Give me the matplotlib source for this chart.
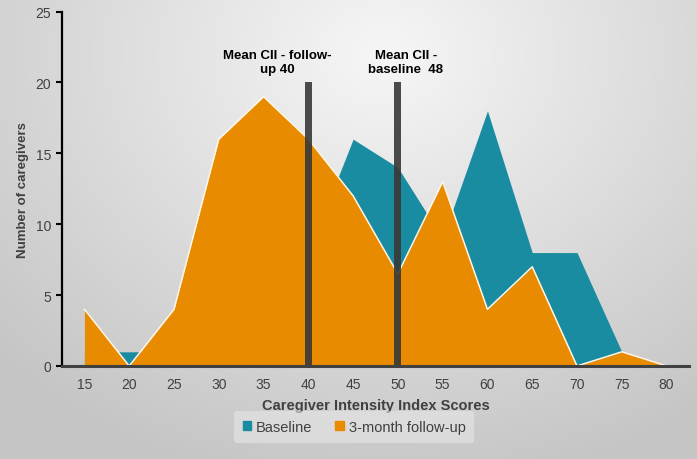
import numpy as np
import matplotlib
matplotlib.use("Agg")
import matplotlib.pyplot as plt
from matplotlib.patches import Patch

# CII score categories
scores = [15, 20, 25, 30, 35, 40, 45, 50, 55, 60, 65, 70, 75, 80]
baseline = [1, 1, 1, 7, 10, 8, 16, 14, 9, 18, 8, 8, 1, 0]
follow_up = [4, 0, 4, 16, 19, 16, 12, 6.5, 13, 4, 7, 0, 1, 0]

mean_positions = [40, 50]
mean_heights = [20, 20]
mean_labels = ["Mean CII - follow-\nup 40", "Mean CII -\nbaseline  48"]
label_x = [36.5, 50.9]

teal = "#1A8CA1"
orange = "#E98B00"
text_col = "#404040"

plt.rcParams["font.family"] = ["Liberation Sans", "DejaVu Sans"]

fig = plt.figure(figsize=(6.97, 4.60), dpi=100)

# radial grey background like the slide
bg = fig.add_axes([0, 0, 1, 1], zorder=-10)
yy, xx = np.mgrid[0:1:460j, 0:1:697j]
r = np.sqrt(((xx - 0.55) / 0.75) ** 2 + ((yy - 0.12) / 0.95) ** 2)
r = np.clip(r, 0, 1)
shade = 0.965 - 0.19 * r
bg.imshow(np.dstack([shade] * 3), aspect="auto", extent=[0, 1, 0, 1], origin="upper")
bg.set_axis_off()

ax = fig.add_axes([0.089, 0.2022, 0.8995, 0.7704])
ax.set_facecolor("none")

ax.fill_between(scores, baseline, color=teal, lw=0, zorder=2)
ax.fill_between(scores, follow_up, color=orange, zorder=3, lw=0)
ax.plot(scores, follow_up, color="#fff6e6", lw=1.1, zorder=4)

ax.bar(mean_positions, mean_heights, width=0.78, color="#383838", alpha=0.9, zorder=5)
for x, txt in zip(label_x, mean_labels):
    ax.text(x, 20.5, txt, ha="center", va="bottom", fontsize=9.5, fontweight="bold",
            color="black", linespacing=1.25)

ax.set_xlim(12.5, 82.5)
ax.set_ylim(0, 25)
ax.set_xticks(scores)
ax.set_yticks([0, 5, 10, 15, 20, 25])
ax.tick_params(axis="x", length=0, labelsize=10, colors=text_col, pad=8)
ax.tick_params(axis="y", length=4, width=1.5, direction="out", labelsize=10,
               colors=text_col, pad=4)
ax.tick_params(axis="y", color="black")

for s in ["top", "right"]:
    ax.spines[s].set_visible(False)
ax.spines["left"].set_color("black")
ax.spines["left"].set_linewidth(1.6)
ax.spines["bottom"].set_color(text_col)
ax.spines["bottom"].set_linewidth(2.2)
ax.spines["bottom"].set_zorder(6)

ax.set_xlabel("Caregiver Intensity Index Scores", fontsize=10.5, fontweight="bold",
              color=text_col, labelpad=5)
ax.set_ylabel("Number of caregivers", fontsize=9.5, fontweight="bold", color=text_col)
ax.yaxis.set_label_coords(-0.053, 0.5)

handles = [Patch(color=teal, label="Baseline"), Patch(color=orange, label="3-month follow-up")]
leg = fig.legend(handles=handles, loc="center", bbox_to_anchor=(354 / 697, 1 - 428 / 460),
                 ncol=2, frameon=True, fontsize=10.5, handlelength=0.6, handleheight=0.6,
                 handletextpad=0.3, columnspacing=1.6, borderpad=0.6)
leg.get_frame().set_facecolor("#e9e9e9")
leg.get_frame().set_edgecolor("none")
leg.get_frame().set_alpha(0.55)
for t in leg.get_texts():
    t.set_color(text_col)

fig.savefig("out.png", dpi=100)
